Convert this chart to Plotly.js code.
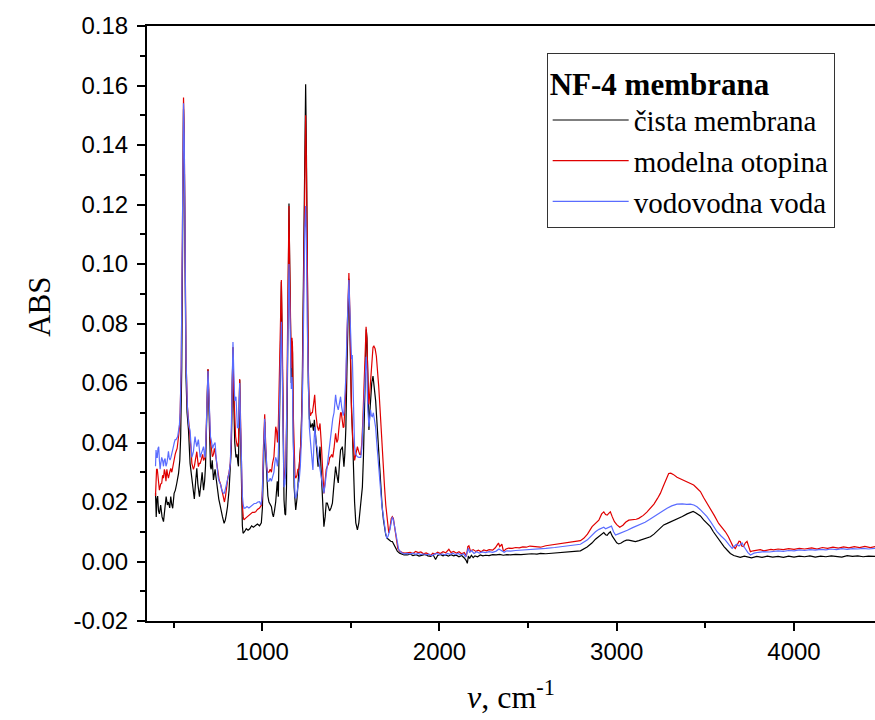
<!DOCTYPE html>
<html>
<head>
<meta charset="utf-8">
<script src="https://cdn.plot.ly/plotly-3.0.1.min.js"></script>
<style>html,body{margin:0;padding:0;background:#fff;}#chart{width:875px;height:720px;}</style>
</head>
<body>
<div id="chart"></div>
<script>
// Series names
var seriesNames = ["čista membrana", "modelna otopina", "vodovodna voda"];
var legendTitle = "NF-4 membrana";

// Y tick labels
var yTickVals = [-0.02, 0.00, 0.02, 0.04, 0.06, 0.08, 0.10, 0.12, 0.14, 0.16, 0.18];
var yTickText = ["-0.02", "0.00", "0.02", "0.04", "0.06", "0.08", "0.10", "0.12", "0.14", "0.16", "0.18"];

// čista membrana (black)
var wnBlack = [398,402,406,410,415,420,427,435,443,450,458,465,471,478,484,490,495,503,510,518,528,535,540,546,551,556,560,565,570,576,584,593,603,612,617,625,631,637,646,654,661,669,675,680,686,691,694,698,703,708,712,718,725,734,740,747,755,762,770,776,785,792,798,804,813,820,826,831,835,839,845,852,858,863,866,870,873,877,883,888,892,900,910,920,930,940,950,960,973,985,995,1001,1006,1011,1014,1018,1025,1032,1038,1045,1052,1058,1063,1069,1076,1085,1091,1096,1101,1105,1108,1112,1116,1123,1128,1132,1137,1142,1147,1151,1155,1160,1164,1168,1171,1175,1180,1189,1196,1203,1211,1218,1225,1232,1238,1242,1245,1249,1254,1260,1266,1274,1283,1289,1294,1300,1308,1315,1321,1326,1333,1339,1344,1348,1355,1361,1367,1374,1380,1388,1396,1405,1414,1421,1429,1436,1442,1448,1452,1457,1461,1466,1472,1478,1484,1489,1494,1499,1503,1508,1515,1521,1528,1537,1545,1552,1558,1565,1571,1577,1582,1587,1591,1596,1602,1607,1612,1618,1625,1632,1640,1646,1653,1658,1664,1670,1677,1684,1690,1697,1705,1715,1725,1734,1743,1752,1762,1775,1790,1800,1818,1835,1850,1868,1885,1900,1918,1935,1950,1965,1978,1990,2005,2020,2035,2050,2065,2080,2095,2110,2125,2140,2150,2157,2163,2170,2180,2190,2200,2215,2230,2245,2260,2280,2300,2320,2340,2360,2380,2400,2430,2460,2490,2520,2550,2570,2600,2650,2700,2758,2795,2833,2860,2880,2900,2915,2927,2937,2946,2955,2964,2975,2987,3000,3011,3025,3040,3055,3068,3085,3105,3125,3150,3170,3190,3210,3230,3250,3265,3285,3310,3340,3370,3397,3415,3431,3445,3460,3472,3490,3510,3528,3545,3565,3585,3605,3625,3641,3660,3680,3697,3720,3740,3760,3790,3820,3850,3880,3910,3940,3970,4000,4030,4060,4090,4120,4150,4180,4210,4240,4270,4300,4330,4360,4390,4420,4460];
var absBlack = [0.023,0.015,0.021,0.022,0.017,0.016,0.019,0.015,0.0134,0.018,0.0218,0.019,0.020,0.018,0.0218,0.019,0.0179,0.0229,0.024,0.0263,0.0296,0.034,0.042,0.065,0.110,0.152,0.140,0.090,0.062,0.050,0.0442,0.033,0.027,0.0218,0.021,0.0274,0.0313,0.026,0.0218,0.026,0.030,0.024,0.027,0.032,0.045,0.060,0.0645,0.055,0.040,0.032,0.031,0.034,0.0274,0.031,0.028,0.024,0.021,0.019,0.016,0.015,0.0128,0.014,0.016,0.0184,0.024,0.030,0.0386,0.060,0.072,0.055,0.040,0.035,0.036,0.033,0.032,0.050,0.061,0.045,0.020,0.012,0.0095,0.010,0.011,0.0105,0.011,0.012,0.0115,0.012,0.0126,0.012,0.013,0.018,0.032,0.046,0.047,0.038,0.0274,0.022,0.020,0.019,0.0184,0.016,0.015,0.017,0.020,0.027,0.0218,0.040,0.070,0.090,0.094,0.075,0.045,0.0207,0.016,0.0156,0.025,0.055,0.100,0.1203,0.100,0.065,0.060,0.074,0.070,0.045,0.025,0.0173,0.021,0.027,0.034,0.040,0.055,0.090,0.130,0.152,0.1604,0.140,0.095,0.060,0.048,0.045,0.0464,0.044,0.0476,0.042,0.036,0.0319,0.035,0.0386,0.030,0.0207,0.013,0.0117,0.015,0.0196,0.0196,0.018,0.017,0.018,0.0196,0.026,0.0319,0.029,0.0264,0.033,0.0375,0.038,0.0386,0.035,0.0319,0.036,0.045,0.065,0.087,0.095,0.080,0.062,0.053,0.045,0.030,0.020,0.013,0.0106,0.013,0.018,0.022,0.025,0.035,0.055,0.070,0.078,0.075,0.058,0.0442,0.050,0.055,0.060,0.0623,0.059,0.054,0.048,0.041,0.034,0.0274,0.022,0.018,0.014,0.0106,0.009,0.0078,0.0072,0.0068,0.0067,0.0055,0.0044,0.0035,0.0028,0.0025,0.0022,0.0022,0.0025,0.0020,0.0023,0.0018,0.0021,0.0024,0.0019,0.0017,0.0022,0.0007,0.0020,0.0024,0.0019,0.0022,0.0018,0.0023,0.0019,0.0021,0.0016,0.0020,0.0012,0.0004,-0.0006,0.0018,0.0010,0.0021,0.0013,0.0019,0.0016,0.0022,0.0019,0.0021,0.0020,0.0023,0.0022,0.0024,0.0021,0.0023,0.0022,0.0024,0.0023,0.0025,0.0026,0.0025,0.0027,0.0026,0.0029,0.0030,0.0035,0.0036,0.0049,0.0062,0.0075,0.0085,0.0092,0.0097,0.0090,0.0088,0.0095,0.0100,0.0085,0.0072,0.0063,0.0059,0.0062,0.0068,0.0072,0.0072,0.0069,0.0067,0.0070,0.0076,0.0080,0.0083,0.0092,0.0104,0.0115,0.0123,0.0128,0.0134,0.0142,0.0151,0.0160,0.0164,0.0168,0.0164,0.0158,0.0153,0.0140,0.0128,0.0117,0.0100,0.0082,0.0067,0.0050,0.0037,0.0027,0.0020,0.0017,0.0014,0.0018,0.0015,0.0012,0.0017,0.0014,0.0018,0.0015,0.0017,0.0014,0.0018,0.0015,0.0018,0.0016,0.0019,0.0015,0.0018,0.0016,0.0019,0.0017,0.0015,0.0020,0.0017,0.0019,0.0016,0.0018,0.0017];

// modelna otopina (red)
var wnRed = [398,401,404,408,414,420,427,433,438,443,448,452,457,462,467,471,478,484,490,495,503,509,514,520,528,533,537,543,549,553,556,560,565,570,578,585,593,598,603,608,612,617,621,626,631,636,640,645,650,655,659,664,669,674,678,683,688,694,698,703,708,712,716,719,725,730,734,740,747,752,757,765,772,777,781,787,793,799,806,813,820,826,831,835,839,845,850,855,860,866,870,873,877,883,888,893,897,905,914,925,935,945,955,963,973,985,996,1001,1006,1011,1014,1018,1025,1031,1038,1045,1052,1058,1066,1071,1076,1081,1086,1091,1096,1101,1105,1108,1112,1116,1120,1123,1128,1132,1137,1142,1147,1151,1155,1160,1164,1168,1171,1175,1180,1185,1189,1196,1201,1207,1213,1220,1227,1233,1238,1242,1245,1249,1254,1260,1266,1272,1278,1283,1290,1296,1302,1308,1311,1318,1326,1333,1339,1344,1348,1355,1361,1367,1375,1381,1386,1392,1398,1405,1414,1421,1427,1433,1438,1442,1446,1452,1457,1461,1466,1472,1478,1484,1489,1494,1499,1504,1510,1516,1521,1528,1537,1544,1550,1556,1562,1568,1574,1580,1586,1590,1595,1600,1602,1608,1614,1620,1625,1630,1637,1644,1650,1657,1664,1670,1677,1684,1690,1697,1705,1710,1714,1720,1728,1734,1740,1746,1752,1758,1765,1775,1790,1805,1818,1835,1850,1866,1880,1895,1910,1925,1940,1950,1962,1975,1990,2005,2020,2035,2053,2065,2080,2095,2110,2125,2140,2152,2160,2166,2175,2190,2205,2220,2235,2250,2265,2280,2300,2315,2325,2333,2340,2352,2361,2375,2390,2410,2430,2450,2470,2490,2510,2530,2550,2570,2600,2630,2660,2690,2720,2758,2795,2814,2835,2861,2880,2899,2915,2927,2937,2946,2955,2964,2975,2987,3000,3017,3035,3050,3068,3090,3110,3124,3150,3170,3190,3210,3230,3246,3262,3278,3293,3305,3321,3340,3360,3378,3400,3420,3434,3450,3472,3490,3510,3528,3550,3575,3595,3613,3630,3641,3655,3669,3680,3690,3697,3705,3715,3725,3735,3745,3754,3770,3790,3810,3830,3850,3870,3885,3910,3940,3970,4000,4030,4060,4073,4100,4130,4160,4190,4220,4250,4280,4310,4340,4370,4400,4430,4460];
var absRed = [0.022,0.027,0.031,0.031,0.026,0.024,0.026,0.0263,0.029,0.028,0.031,0.030,0.027,0.031,0.029,0.028,0.030,0.0313,0.030,0.032,0.0352,0.036,0.037,0.038,0.042,0.045,0.050,0.065,0.105,0.140,0.156,0.145,0.095,0.068,0.052,0.047,0.044,0.038,0.033,0.031,0.031,0.032,0.034,0.036,0.0369,0.034,0.0319,0.033,0.033,0.034,0.0352,0.036,0.034,0.035,0.035,0.042,0.055,0.0647,0.058,0.047,0.040,0.0386,0.036,0.0352,0.036,0.038,0.037,0.034,0.031,0.029,0.0274,0.026,0.024,0.022,0.0207,0.020,0.022,0.026,0.028,0.030,0.033,0.042,0.060,0.072,0.058,0.044,0.042,0.040,0.0386,0.040,0.052,0.0613,0.050,0.030,0.019,0.015,0.014,0.0145,0.015,0.0155,0.016,0.0165,0.0165,0.0167,0.0175,0.018,0.019,0.024,0.037,0.049,0.0495,0.042,0.0319,0.030,0.030,0.031,0.030,0.033,0.0352,0.040,0.0453,0.044,0.040,0.046,0.060,0.080,0.092,0.0946,0.080,0.055,0.035,0.0274,0.028,0.032,0.045,0.070,0.105,0.1195,0.100,0.070,0.065,0.0752,0.072,0.050,0.035,0.029,0.028,0.029,0.031,0.031,0.035,0.042,0.060,0.095,0.128,0.145,0.150,0.135,0.095,0.065,0.052,0.049,0.050,0.050,0.053,0.056,0.050,0.046,0.0453,0.044,0.0464,0.040,0.0319,0.025,0.0229,0.027,0.031,0.0319,0.033,0.035,0.0352,0.036,0.035,0.038,0.0431,0.040,0.041,0.045,0.048,0.050,0.050,0.047,0.045,0.0453,0.050,0.058,0.075,0.092,0.097,0.085,0.0655,0.050,0.042,0.037,0.034,0.036,0.0386,0.037,0.036,0.036,0.040,0.048,0.060,0.073,0.0789,0.075,0.060,0.054,0.0528,0.058,0.066,0.070,0.0720,0.0724,0.0715,0.069,0.0655,0.059,0.052,0.045,0.0375,0.031,0.025,0.019,0.014,0.011,0.0096,0.011,0.0145,0.0151,0.0145,0.012,0.0096,0.0065,0.0044,0.0035,0.0030,0.0028,0.0029,0.0031,0.0027,0.0034,0.0030,0.0032,0.0026,0.0029,0.0024,0.0020,0.0028,0.0025,0.0031,0.0027,0.0033,0.0029,0.0041,0.0030,0.0034,0.0028,0.0033,0.0026,0.0030,0.0018,0.0050,0.0053,0.0035,0.0040,0.0034,0.0038,0.0033,0.0039,0.0036,0.0040,0.0038,0.0046,0.0055,0.0062,0.0050,0.0058,0.0034,0.0042,0.0045,0.0044,0.0047,0.0046,0.0049,0.0048,0.0052,0.0050,0.0049,0.0048,0.0053,0.0056,0.0058,0.0061,0.0063,0.0067,0.0070,0.0078,0.0092,0.0117,0.0128,0.0139,0.0160,0.0167,0.0158,0.0156,0.0162,0.0167,0.0150,0.0134,0.0124,0.0115,0.0122,0.0132,0.0139,0.0140,0.0142,0.0145,0.0155,0.0166,0.0179,0.0193,0.0212,0.0229,0.0252,0.0275,0.0296,0.0297,0.0292,0.0283,0.0277,0.0272,0.0266,0.0261,0.0257,0.0248,0.0235,0.0215,0.0196,0.0179,0.0155,0.0128,0.0115,0.0100,0.0083,0.0067,0.0052,0.0044,0.0055,0.0068,0.0067,0.0052,0.0050,0.0062,0.0068,0.0048,0.0033,0.0036,0.0038,0.0040,0.0036,0.0039,0.0041,0.0039,0.0042,0.0040,0.0043,0.0041,0.0044,0.0042,0.0044,0.0046,0.0042,0.0047,0.0044,0.0048,0.0045,0.0049,0.0046,0.0050,0.0047,0.0051,0.0047,0.0050];

// vodovodna voda (blue)
var wnBlue = [398,401,405,408,412,416,420,424,428,433,438,443,447,452,457,462,467,471,475,480,485,490,495,499,504,509,514,518,523,528,533,537,543,549,553,556,560,565,570,578,585,593,598,603,608,612,617,621,626,631,636,640,645,650,655,659,664,669,674,678,683,688,694,698,703,708,712,716,720,725,730,734,740,747,752,757,766,772,781,787,793,799,806,813,820,826,831,835,839,845,852,856,860,866,870,873,877,883,888,893,897,905,914,925,935,945,955,965,975,985,993,1000,1006,1011,1014,1018,1025,1031,1038,1045,1052,1060,1066,1071,1076,1081,1086,1091,1096,1101,1105,1108,1112,1116,1120,1123,1128,1132,1137,1142,1147,1151,1155,1160,1164,1168,1171,1175,1180,1185,1189,1196,1203,1208,1215,1222,1229,1235,1240,1245,1249,1254,1260,1266,1273,1280,1286,1292,1297,1303,1311,1318,1326,1333,1340,1348,1355,1361,1368,1377,1385,1392,1398,1405,1410,1414,1420,1429,1435,1442,1448,1452,1457,1461,1466,1472,1478,1484,1489,1494,1499,1504,1508,1512,1516,1521,1528,1537,1546,1556,1562,1568,1574,1580,1586,1590,1595,1602,1606,1611,1616,1621,1627,1633,1640,1646,1653,1660,1668,1675,1683,1690,1696,1703,1710,1720,1727,1734,1740,1746,1752,1760,1770,1785,1800,1818,1835,1850,1866,1880,1895,1910,1925,1940,1955,1970,1985,2000,2015,2030,2045,2060,2075,2090,2105,2120,2135,2148,2155,2163,2170,2180,2195,2210,2225,2240,2260,2280,2300,2320,2335,2350,2365,2380,2400,2430,2460,2490,2520,2550,2570,2600,2650,2700,2758,2795,2833,2860,2880,2900,2915,2927,2937,2946,2957,2970,2982,2993,3010,3030,3060,3090,3110,3133,3160,3185,3208,3230,3255,3284,3310,3340,3370,3395,3415,3435,3453,3470,3490,3509,3530,3550,3566,3590,3613,3635,3651,3665,3675,3690,3707,3720,3740,3754,3775,3800,3830,3860,3885,3910,3940,3970,4000,4030,4060,4090,4120,4150,4180,4210,4240,4270,4300,4330,4360,4390,4420,4460];
var absBlue = [0.032,0.0375,0.035,0.035,0.038,0.0386,0.034,0.031,0.033,0.035,0.034,0.032,0.034,0.0346,0.032,0.033,0.035,0.037,0.035,0.0341,0.035,0.036,0.037,0.0386,0.040,0.041,0.041,0.0414,0.042,0.044,0.046,0.050,0.066,0.105,0.138,0.154,0.143,0.095,0.068,0.052,0.046,0.044,0.040,0.035,0.036,0.037,0.040,0.042,0.040,0.0386,0.040,0.041,0.038,0.035,0.036,0.037,0.038,0.0386,0.036,0.035,0.042,0.055,0.064,0.058,0.048,0.042,0.041,0.039,0.038,0.039,0.040,0.040,0.035,0.0297,0.028,0.027,0.0257,0.024,0.0229,0.023,0.025,0.027,0.028,0.0297,0.033,0.045,0.065,0.0738,0.065,0.054,0.0554,0.050,0.045,0.045,0.052,0.060,0.048,0.030,0.022,0.019,0.0179,0.018,0.0185,0.018,0.0185,0.019,0.0195,0.0195,0.020,0.0201,0.019,0.022,0.035,0.047,0.048,0.040,0.030,0.027,0.027,0.028,0.027,0.029,0.030,0.033,0.035,0.034,0.032,0.036,0.050,0.068,0.078,0.0806,0.068,0.045,0.030,0.025,0.026,0.030,0.045,0.065,0.090,0.100,0.088,0.065,0.058,0.062,0.058,0.040,0.028,0.022,0.0212,0.023,0.026,0.027,0.032,0.042,0.062,0.095,0.112,0.1195,0.108,0.080,0.055,0.045,0.0397,0.034,0.0308,0.040,0.0453,0.040,0.038,0.034,0.031,0.028,0.025,0.023,0.026,0.029,0.033,0.0386,0.042,0.0453,0.048,0.050,0.053,0.056,0.053,0.051,0.053,0.0554,0.052,0.050,0.049,0.050,0.055,0.062,0.077,0.090,0.0946,0.085,0.072,0.068,0.0694,0.058,0.045,0.0386,0.036,0.0352,0.035,0.035,0.038,0.045,0.055,0.064,0.0688,0.065,0.052,0.0453,0.048,0.051,0.049,0.0487,0.050,0.048,0.045,0.040,0.034,0.029,0.024,0.019,0.015,0.012,0.0096,0.0078,0.0085,0.0106,0.013,0.0150,0.014,0.012,0.0090,0.0060,0.0040,0.0030,0.0026,0.0027,0.0025,0.0028,0.0024,0.0027,0.0023,0.0026,0.0022,0.0025,0.0019,0.0024,0.0027,0.0023,0.0026,0.0022,0.0027,0.0024,0.0028,0.0023,0.0027,0.0022,0.0026,0.0015,0.0028,0.0045,0.0030,0.0037,0.0027,0.0033,0.0028,0.0032,0.0030,0.0033,0.0031,0.0035,0.0042,0.0036,0.0031,0.0036,0.0035,0.0037,0.0038,0.0039,0.0040,0.0041,0.0041,0.0044,0.0047,0.0050,0.0055,0.0058,0.0072,0.0088,0.0100,0.0108,0.0113,0.0115,0.0110,0.0112,0.0116,0.0119,0.0100,0.0089,0.0093,0.0097,0.0105,0.0114,0.0119,0.0123,0.0132,0.0141,0.0149,0.0158,0.0168,0.0179,0.0187,0.0193,0.0194,0.0192,0.0193,0.0190,0.0184,0.0175,0.0163,0.0151,0.0133,0.0115,0.0100,0.0085,0.0072,0.0055,0.0044,0.0052,0.0058,0.0052,0.0062,0.0048,0.0030,0.0022,0.0028,0.0031,0.0033,0.0032,0.0034,0.0036,0.0034,0.0037,0.0036,0.0039,0.0037,0.0040,0.0038,0.0041,0.0039,0.0042,0.0040,0.0043,0.0041,0.0043,0.0042,0.0044,0.0042,0.0044];

var colors = ["#000000", "#e00000", "#5a6cff"];

var traces = [
  {x: wnBlack, y: absBlack, name: seriesNames[0], type: "scatter", mode: "lines", line: {color: colors[0], width: 1.2}},
  {x: wnRed,   y: absRed,   name: seriesNames[1], type: "scatter", mode: "lines", line: {color: colors[1], width: 1.2}},
  {x: wnBlue,  y: absBlue,  name: seriesNames[2], type: "scatter", mode: "lines", line: {color: colors[2], width: 1.2}}
];

var tickFont = {family: "Liberation Sans, Arial, sans-serif", size: 24, color: "#000"};
var serif = "Liberation Serif, Times New Roman, serif";

var layout = {
  width: 875, height: 720,
  margin: {l: 147, r: 0, t: 26, b: 99},
  paper_bgcolor: "#fff", plot_bgcolor: "#fff",
  showlegend: true,
  xaxis: {
    range: [350, 4457], showgrid: false, zeroline: false,
    showline: true, linecolor: "#000", linewidth: 2, mirror: true,
    ticks: "outside", ticklen: 8, tickwidth: 2, tickcolor: "#000",
    tick0: 0, dtick: 1000, tickfont: tickFont,
    minor: {tick0: 0, dtick: 500, ticks: "outside", ticklen: 5, tickwidth: 2, tickcolor: "#000"},
    title: {text: "<i>v</i>, cm<sup>-1</sup>", font: {family: serif, size: 32, color: "#000"}, standoff: 22}
  },
  yaxis: {
    range: [-0.02, 0.18], showgrid: false, zeroline: false,
    showline: true, linecolor: "#000", linewidth: 2, mirror: false,
    ticks: "outside", ticklen: 8, tickwidth: 2, tickcolor: "#000",
    tickmode: "array", tickvals: yTickVals, ticktext: yTickText, tickfont: tickFont,
    ticklabelstandoff: 4,
    minor: {tickmode: "linear", tick0: -0.02, dtick: 0.01, ticks: "outside", ticklen: 5, tickwidth: 2, tickcolor: "#000"}
  },
  annotations: [{
    text: "ABS", textangle: -90, xref: "paper", yref: "paper",
    x: -0.147, y: 0.528, xanchor: "center", yanchor: "middle", showarrow: false,
    font: {family: serif, size: 31, color: "#000"}
  }],
  legend: {
    x: 0.549, y: 0.954, xanchor: "left", yanchor: "top",
    bgcolor: "#fff", bordercolor: "#333", borderwidth: 1,
    font: {family: serif, size: 29, color: "#000"},
    title: {text: "<b>" + legendTitle + "</b>", font: {family: serif, size: 31, color: "#000"}},
    itemwidth: 76, tracegroupgap: 0
  }
};

Plotly.newPlot("chart", traces, layout, {displayModeBar: false, staticPlot: true});
</script>
</body>
</html>
